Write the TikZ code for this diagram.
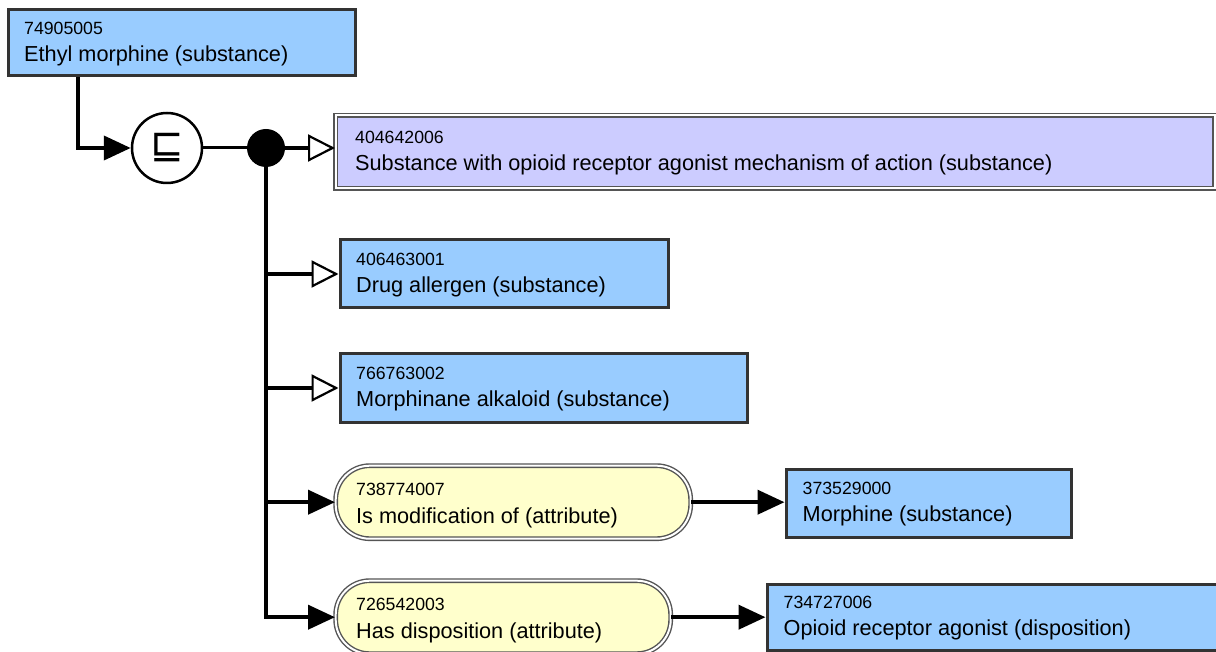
\documentclass[tikz,border=0pt]{standalone}
\usepackage{fontspec}
\setmainfont{Liberation Sans}
\newfontfamily\symfont{DejaVu Sans}
\usetikzlibrary{arrows.meta,calc}
\definecolor{conceptblue}{RGB}{153,204,255}
\definecolor{defpurple}{RGB}{204,204,255}
\definecolor{attryellow}{RGB}{255,255,204}
\definecolor{edgegray}{RGB}{51,51,51}
\definecolor{dblgray}{RGB}{85,85,85}
\begin{document}
\begin{tikzpicture}[x=1pt,y=-1pt,
  concept/.style={draw=edgegray, line width=3pt, fill=conceptblue, rectangle, anchor=north west, inner sep=0pt},
  defined/.style={draw=dblgray, double=white, double distance=2pt, line width=1.4pt, fill=defpurple, rectangle, anchor=north west, inner sep=0pt},
  attribute/.style={draw=dblgray, double=white, double distance=2pt, line width=1.4pt, fill=attryellow, rectangle, rounded corners=34pt, anchor=north west, inner sep=0pt},
  idtext/.style={anchor=base west, inner sep=0pt, font=\fontsize{17.7}{20}\selectfont},
  nametext/.style={anchor=base west, inner sep=0pt, font=\fontsize{21.7}{24}\selectfont},
  conn/.style={draw=black, line width=4pt, line join=miter},
  fillarrow/.style={-{Triangle[length=27pt,width=24pt]}},
  openarrow/.style={-{Triangle[length=27pt,width=27pt,fill=white,line width=2.2pt]}},
]
\useasboundingbox (0,0) rectangle (1216,652);

% concept boxes
\node[concept, minimum width=347pt, minimum height=66pt] (e) at (6.5,8.5) {};
\node[idtext] (e-id) at ($(e.north west)+(17.5,26.5)$) {74905005};
\node[nametext] (e-name) at ($(e.north west)+(17.5,53.5)$) {Ethyl morphine (substance)};

\node[defined, minimum width=879pt, minimum height=73pt] (p) at (335,114.5) {};
\node[idtext] (p-id) at ($(p.north west)+(20,29.5)$) {404642006};
\node[nametext] (p-name) at ($(p.north west)+(20,56.5)$) {Substance with opioid receptor agonist mechanism of action (substance)};

\node[concept, minimum width=328pt, minimum height=68pt] (b2) at (338.5,238.5) {};
\node[idtext] (b2-id) at ($(b2.north west)+(17.5,27)$) {406463001};
\node[nametext] (b2-name) at ($(b2.north west)+(17.5,54)$) {Drug allergen (substance)};

\node[concept, minimum width=407pt, minimum height=68pt] (b3) at (338.5,352.5) {};
\node[idtext] (b3-id) at ($(b3.north west)+(17.5,27)$) {766763002};
\node[nametext] (b3-name) at ($(b3.north west)+(17.5,54)$) {Morphinane alkaloid (substance)};

\node[attribute, minimum width=355pt, minimum height=73pt] (y1) at (335,465) {};
\node[idtext] (y1-id) at ($(y1.north west)+(21,30)$) {738774007};
\node[nametext] (y1-name) at ($(y1.north west)+(21,58)$) {Is modification of (attribute)};

\node[concept, minimum width=285pt, minimum height=68pt] (b4) at (784.5,467.5) {};
\node[idtext] (b4-id) at ($(b4.north west)+(18,27)$) {373529000};
\node[nametext] (b4-name) at ($(b4.north west)+(18,54)$) {Morphine (substance)};

\node[attribute, minimum width=335pt, minimum height=73pt] (y2) at (335,580) {};
\node[idtext] (y2-id) at ($(y2.north west)+(21,30)$) {726542003};
\node[nametext] (y2-name) at ($(y2.north west)+(21,58)$) {Has disposition (attribute)};

\node[concept, minimum width=452pt, minimum height=66pt] (b5) at (765.5,582.5) {};
\node[idtext] (b5-id) at ($(b5.north west)+(18,26)$) {734727006};
\node[nametext] (b5-name) at ($(b5.north west)+(18,53)$) {Opioid receptor agonist (disposition)};

% operator circle and conjunction dot
\node[circle, draw=black, line width=2.5pt, fill=white, minimum size=70pt, inner sep=0pt,
      font=\symfont\fontsize{40}{40}\selectfont] (sub) at (167,148) {⊑};
\node[circle, fill=black, minimum size=38pt, inner sep=0pt] (dot) at (266,148) {};

% connectors
\draw[conn, fillarrow] ([xshift=71.5pt]e.south west) |- (sub.west);
\draw[draw=black, line width=3pt] (sub.east) -- (dot.west);
\draw[conn, openarrow] (dot.east) -- (dot.east -| p.west);
\draw[conn, fillarrow] (dot.center) |- (y2.west);
\draw[conn, openarrow] (dot.center |- b2.west) -- (b2.west);
\draw[conn, openarrow] (dot.center |- b3.west) -- (b3.west);
\draw[conn, fillarrow] (dot.center |- y1.west) -- (y1.west);
\draw[conn, fillarrow] (y1.east) -- (y1.east -| b4.west);
\draw[conn, fillarrow] (y2.east) -- (y2.east -| b5.west);
\end{tikzpicture}
\end{document}
